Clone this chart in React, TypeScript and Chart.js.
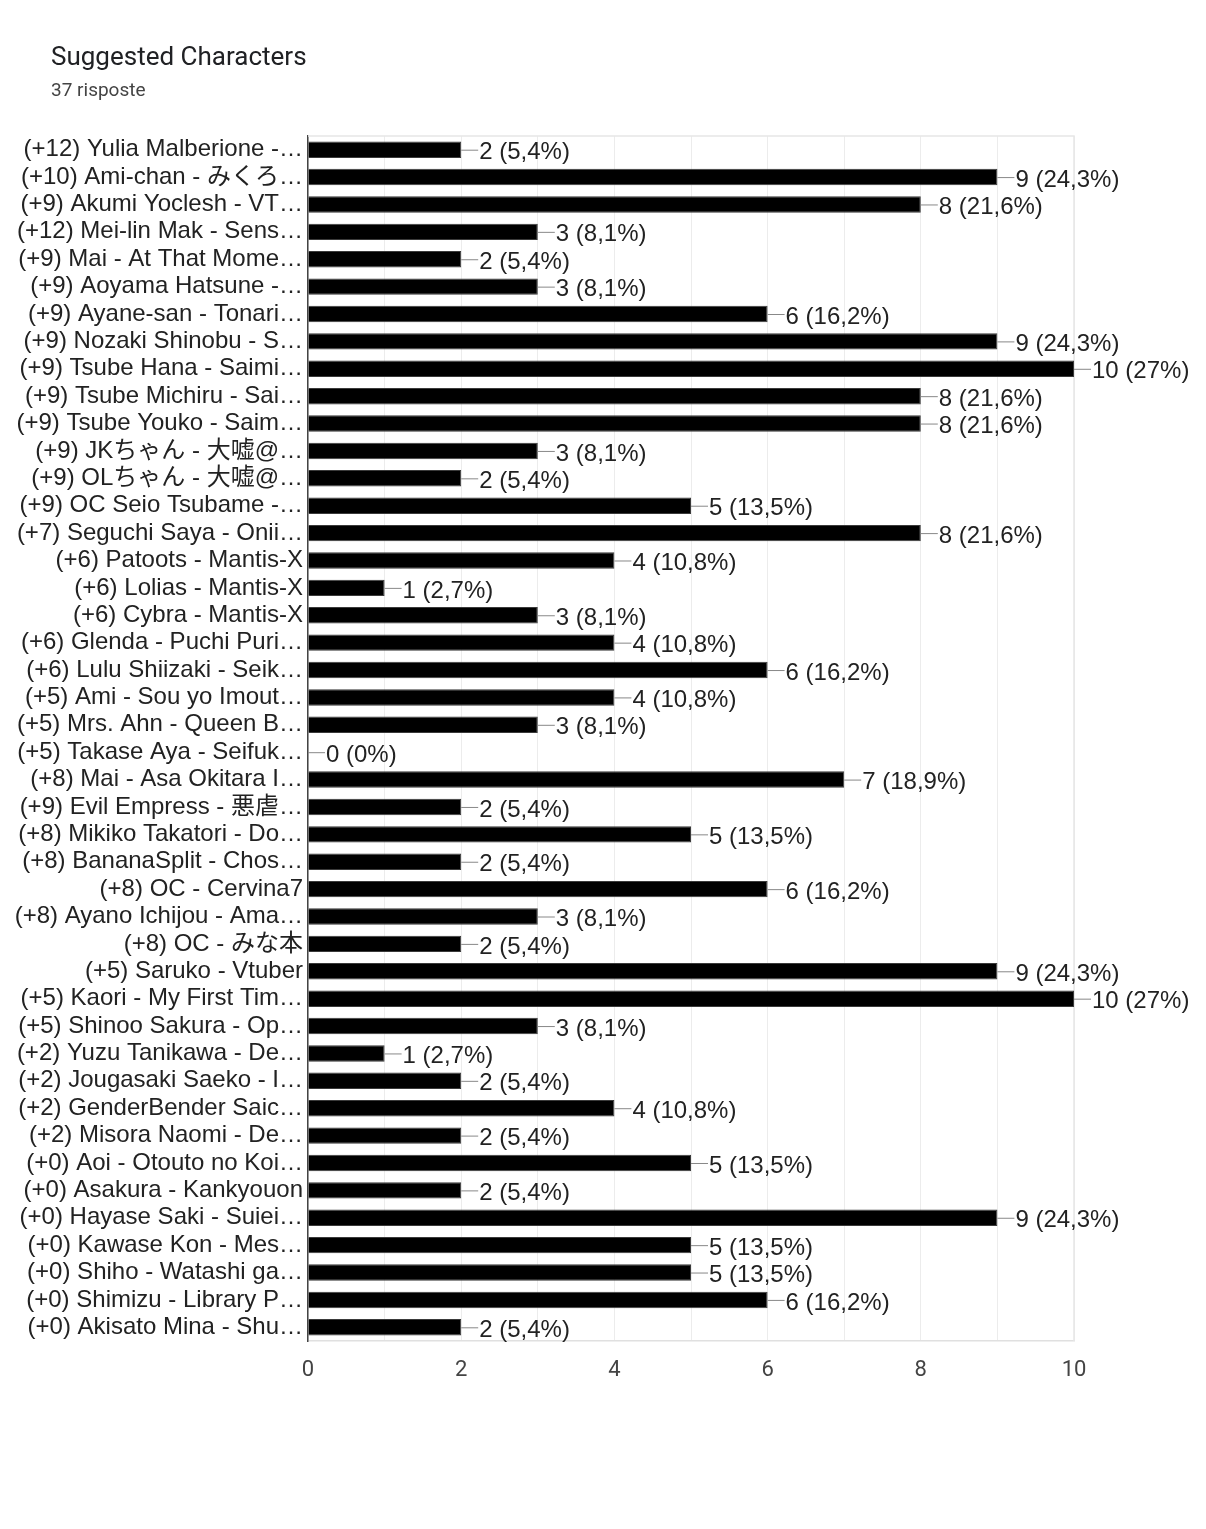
import { useEffect, useRef } from 'react'
import { Chart, registerables, Plugin } from 'chart.js'

Chart.register(...registerables)

const TITLE = 'Suggested Characters'
const SUBTITLE = '37 risposte'
const TOTAL = 37

const characters = [
  '(+12) Yulia Malberione -…',
  '(+10) Ami-chan - みくろ…',
  '(+9) Akumi Yoclesh - VT…',
  '(+12) Mei-lin Mak - Sens…',
  '(+9) Mai - At That Mome…',
  '(+9) Aoyama Hatsune -…',
  '(+9) Ayane-san - Tonari…',
  '(+9) Nozaki Shinobu - S…',
  '(+9) Tsube Hana - Saimi…',
  '(+9) Tsube Michiru - Sai…',
  '(+9) Tsube Youko - Saim…',
  '(+9) JKちゃん - 大嘘@…',
  '(+9) OLちゃん - 大嘘@…',
  '(+9) OC Seio Tsubame -…',
  '(+7) Seguchi Saya - Onii…',
  '(+6) Patoots - Mantis-X',
  '(+6) Lolias - Mantis-X',
  '(+6) Cybra - Mantis-X',
  '(+6) Glenda - Puchi Puri…',
  '(+6) Lulu Shiizaki - Seik…',
  '(+5) Ami - Sou yo Imout…',
  '(+5) Mrs. Ahn - Queen B…',
  '(+5) Takase Aya - Seifuk…',
  '(+8) Mai - Asa Okitara I…',
  '(+9) Evil Empress - 悪虐…',
  '(+8) Mikiko Takatori - Do…',
  '(+8) BananaSplit - Chos…',
  '(+8) OC - Cervina7',
  '(+8) Ayano Ichijou - Ama…',
  '(+8) OC - みな本',
  '(+5) Saruko - Vtuber',
  '(+5) Kaori - My First Tim…',
  '(+5) Shinoo Sakura - Op…',
  '(+2) Yuzu Tanikawa - De…',
  '(+2) Jougasaki Saeko - I…',
  '(+2) GenderBender Saic…',
  '(+2) Misora Naomi - De…',
  '(+0) Aoi - Otouto no Koi…',
  '(+0) Asakura - Kankyouon',
  '(+0) Hayase Saki - Suiei…',
  '(+0) Kawase Kon - Mes…',
  '(+0) Shiho - Watashi ga…',
  '(+0) Shimizu - Library P…',
  '(+0) Akisato Mina - Shu…',
]

const votes = [
  2, 9, 8, 3, 2, 3, 6, 9, 10, 8, 8, 3, 2, 5, 8, 4, 1, 3, 4, 6, 4, 3, 0,
  7, 2, 5, 2, 6, 3, 2, 9, 10, 3, 1, 2, 4, 2, 5, 2, 9, 5, 5, 6, 2,
]

const xTicks = [0, 2, 4, 6, 8, 10]

const FONT = "Roboto, 'Noto Sans CJK JP', sans-serif"
const LABEL_FONT = "'Liberation Sans', 'Noto Sans CJK JP', sans-serif"

function pct(v: number) {
  const p = Math.round((v / TOTAL) * 1000) / 10
  return String(p).replace('.', ',') + '%'
}

// value labels with a short leader line, like Google Forms
const valueLabels: Plugin<'bar'> = {
  id: 'valueLabels',
  afterDatasetsDraw(chart) {
    const ctx = chart.ctx
    const meta = chart.getDatasetMeta(0)
    ctx.save()
    ctx.font = `24px ${LABEL_FONT}`
    ctx.textBaseline = 'middle'
    ctx.textAlign = 'left'
    meta.data.forEach((bar: any, i: number) => {
      const x = bar.x
      const y = bar.y
      ctx.strokeStyle = '#888888'
      ctx.lineWidth = 1
      ctx.beginPath()
      ctx.moveTo(x, y + 0.5)
      ctx.lineTo(x + 17, y + 0.5)
      ctx.stroke()
      ctx.fillStyle = '#222222'
      ctx.fillText(`${votes[i]} (${pct(votes[i])})`, x + 18, y + 3)
    })
    ctx.restore()
  },
}

// light frame on top and right of the plot
const frame: Plugin<'bar'> = {
  id: 'frame',
  beforeDatasetsDraw(chart) {
    const { ctx, chartArea: a } = chart
    ctx.save()
    ctx.strokeStyle = '#e6e6e6'
    ctx.lineWidth = 1.5
    ctx.beginPath()
    ctx.moveTo(a.left, a.top)
    ctx.lineTo(a.right, a.top)
    ctx.lineTo(a.right, a.bottom)
    ctx.stroke()
    ctx.restore()
  },
}

function BarChart() {
  const canvasRef = useRef<HTMLCanvasElement>(null)
  const chartRef = useRef<Chart | null>(null)

  useEffect(() => {
    if (!canvasRef.current) return
    if (chartRef.current) chartRef.current.destroy()
    chartRef.current = new Chart(canvasRef.current, {
      type: 'bar',
      data: {
        labels: characters,
        datasets: [{
          data: votes,
          backgroundColor: '#000000',
          borderColor: '#3a3a3a',
          borderWidth: 1,
          categoryPercentage: 1,
          barPercentage: 0.6,
        }],
      },
      options: {
        indexAxis: 'y',
        responsive: false,
        animation: false,
        layout: { padding: { left: 0, right: 132, top: 136, bottom: 128 } },
        plugins: { legend: { display: false }, tooltip: { enabled: false } },
        scales: {
          x: {
            min: 0,
            max: 10,
            afterFit: (s: any) => { s.height = 60 },
            afterBuildTicks: (s: any) => {
              s.ticks = Array.from({ length: 11 }, (_, k) => ({ value: k }))
            },
            grid: { color: '#ececec', lineWidth: 1, drawTicks: false },
            border: { color: '#e0e0e0', width: 1.5 },
            ticks: {
              padding: 16,
              color: '#444444',
              font: { family: FONT, size: 22 },
              callback: (v: any) => (xTicks.includes(Number(v)) ? String(v) : ''),
            },
          },
          y: {
            afterFit: (s: any) => { s.width = 308 },
            grid: { display: false, drawTicks: false },
            border: { color: '#444444', width: 1.5 },
            ticks: {
              padding: 5,
              autoSkip: false,
              color: '#222222',
              font: { family: LABEL_FONT, size: 24 },
            },
          },
        },
      },
      plugins: [frame, valueLabels],
    })
    return () => { chartRef.current?.destroy() }
  }, [])

  return <canvas ref={canvasRef} width={1206} height={1529} style={{ display: 'block', width: 1206, height: 1529 }} />
}

export default function App() {
  useEffect(() => {
    document.body.style.margin = '0'
  }, [])

  return (
    <div style={{ position: 'relative', width: 1206, height: 1529, background: '#fff', fontFamily: FONT }}>
      <BarChart />
      <div style={{ position: 'absolute', left: 51, top: 40, fontSize: 26, color: '#202124', lineHeight: '32px' }}>{TITLE}</div>
      <div style={{ position: 'absolute', left: 51, top: 78, fontSize: 19, color: '#444444', lineHeight: '24px' }}>{SUBTITLE}</div>
    </div>
  )
}
